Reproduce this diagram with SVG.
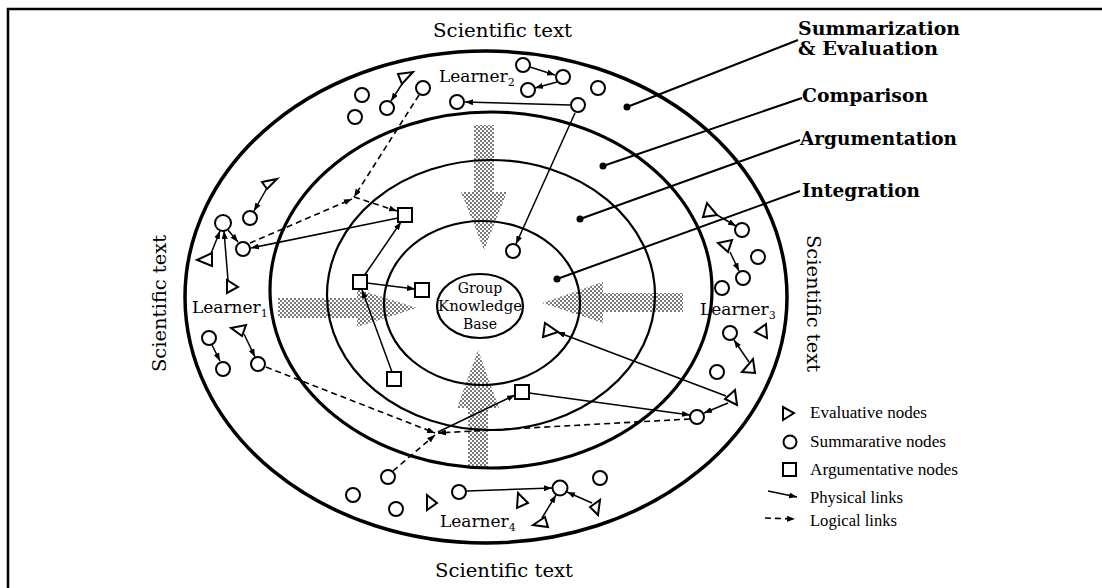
<svg xmlns="http://www.w3.org/2000/svg" width="1102" height="588" viewBox="0 0 1102 588">
<style>
.ring{fill:none;stroke:#000}
.n{fill:#fff;stroke:#000;stroke-width:2}
.l{stroke:#000;stroke-width:1.5;fill:none;marker-end:url(#arr)}
.d{stroke:#000;stroke-width:1.6;fill:none;stroke-dasharray:6 4;marker-end:url(#arr)}
.lead{stroke:#000;stroke-width:2;fill:none}
.t{font-family:"DejaVu Serif","Liberation Serif",serif;fill:#000}
.b{font-family:"DejaVu Serif","Liberation Serif",serif;font-weight:bold;font-size:18px;fill:#000}
.lg{font-family:"Liberation Serif","DejaVu Serif",serif;font-size:16px;fill:#000}
.st{fill:url(#dots)}
</style>
<defs>
<pattern id="dots" width="4" height="4" patternUnits="userSpaceOnUse">
<rect width="4" height="4" fill="#fff"/>
<rect x="0" y="0" width="2" height="2" fill="#7a7a7a"/>
<rect x="2" y="2" width="2" height="2" fill="#7a7a7a"/>
</pattern>
<marker id="arr" markerWidth="8" markerHeight="6" refX="8" refY="3" orient="auto" markerUnits="userSpaceOnUse">
<path d="M0,0 L8,3 L0,6 z" fill="#000"/>
</marker>
</defs>
<rect width="1102" height="588" fill="#fff"/>
<g id="frame">
<path d="M8,588 L8,9 L1102,9" fill="none" stroke="#000" stroke-width="2.5"/>
</g>
<g id="flows">
<polygon class="st" points="474,125 494,125 494,192 507,192 484,250 461,192 474,192"/>
<polygon class="st" points="478,350 499,408 488,408 488,468 468,468 468,408 457,408"/>
<polygon class="st" points="278,298 357,298 357,289 417,308 357,327 357,318 278,318"/>
<polygon class="st" points="542,303 603,282 603,293 683,293 683,312 603,312 603,323"/>
</g>
<g id="rings">
<ellipse class="ring" cx="486" cy="297" rx="301" ry="246" stroke-width="3.5"/>
<ellipse class="ring" cx="491" cy="290" rx="221" ry="178" stroke-width="3.2"/>
<ellipse class="ring" cx="491" cy="295" rx="164" ry="135" stroke-width="2.2"/>
<ellipse class="ring" cx="482" cy="303" rx="98" ry="82" stroke-width="2.2"/>
</g>
<g id="group-knowledge-base">
<ellipse cx="480" cy="306" rx="43" ry="32" fill="#fff" stroke="#000" stroke-width="2.2"/>
<text class="t" x="480" y="293" font-size="14" text-anchor="middle">Group</text>
<text class="t" x="480" y="311" font-size="14" text-anchor="middle" textLength="84" lengthAdjust="spacingAndGlyphs">Knowledge</text>
<text class="t" x="480" y="329" font-size="14" text-anchor="middle">Base</text>
</g>
<g id="layer-labels">
<circle cx="627" cy="107" r="3.5"/>
<line class="lead" x1="627" y1="107" x2="798" y2="40"/>
<circle cx="603" cy="166" r="3.5"/>
<line class="lead" x1="603" y1="166" x2="802" y2="98"/>
<circle cx="580" cy="219" r="3.5"/>
<line class="lead" x1="580" y1="219" x2="800" y2="140"/>
<circle cx="557" cy="279" r="3.5"/>
<line class="lead" x1="557" y1="279" x2="800" y2="191"/>
<text class="b" x="798" y="35" textLength="162" lengthAdjust="spacingAndGlyphs">Summarization</text>
<text class="b" x="798" y="55" textLength="140" lengthAdjust="spacingAndGlyphs">&amp; Evaluation</text>
<text class="b" x="802" y="102" textLength="126" lengthAdjust="spacingAndGlyphs">Comparison</text>
<text class="b" x="800" y="145" textLength="157" lengthAdjust="spacingAndGlyphs">Argumentation</text>
<text class="b" x="802" y="197" textLength="118" lengthAdjust="spacingAndGlyphs">Integration</text>
</g>
<g id="scientific-text">
<text class="t" x="433" y="37" font-size="18" textLength="139" lengthAdjust="spacingAndGlyphs">Scientific text</text>
<text class="t" x="435" y="577" font-size="18" textLength="138" lengthAdjust="spacingAndGlyphs">Scientific text</text>
<text class="t" transform="translate(166,372) rotate(-90)" font-size="18" textLength="137" lengthAdjust="spacingAndGlyphs">Scientific text</text>
<text class="t" transform="translate(807,235) rotate(90)" font-size="18" textLength="137" lengthAdjust="spacingAndGlyphs">Scientific text</text>
</g>
<g id="learner-labels">
<text class="t" x="439" y="82" font-size="17">Learner<tspan font-size="11" dy="4">2</tspan></text>
<text class="t" x="192" y="313" font-size="17">Learner<tspan font-size="11" dy="4">1</tspan></text>
<text class="t" x="700" y="315" font-size="17">Learner<tspan font-size="11" dy="4">3</tspan></text>
<text class="t" x="440" y="527" font-size="17">Learner<tspan font-size="11" dy="4">4</tspan></text>
</g>
<g id="connectors">
<line class="l" x1="402" y1="84" x2="391" y2="101"/>
<line class="l" x1="530" y1="67" x2="555" y2="75"/>
<line class="l" x1="557" y1="82" x2="535" y2="88"/>
<line class="l" x1="570" y1="105" x2="465" y2="102"/>
<line class="l" x1="575" y1="113" x2="516" y2="244"/>
<line class="d" x1="419" y1="95" x2="354" y2="197"/>
<line class="d" x1="250" y1="243" x2="352" y2="199"/>
<line class="d" x1="354" y1="197" x2="397" y2="211"/>
<line class="l" x1="398" y1="218" x2="251" y2="248"/>
<line class="l" x1="267" y1="188" x2="254" y2="211"/>
<line class="l" x1="228" y1="230" x2="238" y2="242"/>
<line class="l" x1="210" y1="256" x2="220" y2="231"/>
<line class="l" x1="228" y1="280" x2="224" y2="231"/>
<line class="l" x1="212" y1="345" x2="220" y2="361"/>
<line class="l" x1="244" y1="334" x2="255" y2="357"/>
<line class="d" x1="266" y1="367" x2="435" y2="433"/>
<line class="l" x1="364" y1="276" x2="401" y2="222"/>
<line class="l" x1="367" y1="283" x2="415" y2="289"/>
<line class="l" x1="392" y1="372" x2="362" y2="290"/>
<line class="l" x1="726" y1="396" x2="557" y2="332"/>
<line class="l" x1="728" y1="403" x2="704" y2="413"/>
<line class="l" x1="529" y1="393" x2="690" y2="415"/>
<line class="d" x1="690" y1="419" x2="438" y2="433"/>
<line class="l" x1="438" y1="432" x2="515" y2="395"/>
<line class="d" x1="393" y1="471" x2="435" y2="435"/>
<line class="l" x1="717" y1="215" x2="736" y2="226"/>
<line class="l" x1="730" y1="252" x2="739" y2="271"/>
<line class="l" x1="749" y1="362" x2="734" y2="340"/>
<line class="l" x1="467" y1="491" x2="552" y2="488"/>
<line class="l" x1="592" y1="503" x2="567" y2="492"/>
<line class="l" x1="542" y1="518" x2="556" y2="495"/>
</g>
<g id="learner2-nodes">
<circle class="n" cx="362" cy="95" r="7"/>
<circle class="n" cx="355" cy="117" r="7"/>
<circle class="n" cx="387" cy="108" r="7"/>
<polygon class="n" points="398,74 413,72 402,84"/>
<circle class="n" cx="423" cy="88" r="7"/>
<circle class="n" cx="457" cy="102" r="7"/>
<circle class="n" cx="523" cy="65" r="7"/>
<circle class="n" cx="563" cy="77" r="7"/>
<circle class="n" cx="528" cy="90" r="7"/>
<circle class="n" cx="598" cy="88" r="7"/>
<circle class="n" cx="578" cy="105" r="7"/>
<circle class="n" cx="513" cy="251" r="7"/>
</g>
<g id="learner1-nodes">
<polygon class="n" points="262,182 277,179 267,189"/>
<circle class="n" cx="250" cy="218" r="7"/>
<circle class="n" cx="223" cy="223" r="8"/>
<circle class="n" cx="243" cy="249" r="7"/>
<polygon class="n" points="197,260 212,253 212,266"/>
<polygon class="n" points="227,280 227,293 238,287"/>
<circle class="n" cx="209" cy="338" r="7"/>
<circle class="n" cx="223" cy="369" r="7"/>
<polygon class="n" points="231,328 246,325 242,336"/>
<circle class="n" cx="258" cy="364" r="7"/>
<rect class="n" x="398" y="208" width="14" height="14"/>
<rect class="n" x="353" y="275" width="14" height="14"/>
<rect class="n" x="415" y="283" width="14" height="14"/>
<rect class="n" x="387" y="372" width="14" height="14"/>
</g>
<g id="learner3-nodes">
<polygon class="n" points="707,203 703,217 717,215"/>
<circle class="n" cx="742" cy="230" r="7"/>
<circle class="n" cx="758" cy="257" r="7"/>
<polygon class="n" points="718,243 732,240 728,252"/>
<circle class="n" cx="743" cy="278" r="7"/>
<circle class="n" cx="722" cy="288" r="7"/>
<circle class="n" cx="730" cy="333" r="7"/>
<polygon class="n" points="755,332 766,324 767,338"/>
<polygon class="n" points="742,372 755,373 753,359"/>
<circle class="n" cx="717" cy="372" r="7"/>
<polygon class="n" points="725,399 735,390 737,405"/>
<circle class="n" cx="697" cy="417" r="7"/>
<polygon class="n" points="545,323 543,337 558,332"/>
</g>
<g id="learner4-nodes">
<rect class="n" x="515" y="385" width="14" height="14"/>
<circle class="n" cx="388" cy="477" r="7"/>
<circle class="n" cx="353" cy="495" r="7"/>
<circle class="n" cx="396" cy="509" r="7"/>
<polygon class="n" points="427,495 427,510 437,503"/>
<circle class="n" cx="459" cy="492" r="7"/>
<circle class="n" cx="560" cy="488" r="7.5"/>
<polygon class="n" points="518,493 528,503 517,508"/>
<circle class="n" cx="600" cy="478" r="7"/>
<polygon class="n" points="590,507 600,500 598,515"/>
<polygon class="n" points="533,525 545,517 548,527"/>
</g>
<g id="legend">
<polygon class="n" points="783,407 783,420 794,413"/>
<text class="lg" x="810" y="418" textLength="117" lengthAdjust="spacingAndGlyphs">Evaluative nodes</text>
<circle class="n" cx="790" cy="442" r="6.5"/>
<text class="lg" x="810" y="447" textLength="136" lengthAdjust="spacingAndGlyphs">Summarative nodes</text>
<rect class="n" x="783" y="463" width="13" height="13"/>
<text class="lg" x="810" y="475" textLength="148" lengthAdjust="spacingAndGlyphs">Argumentative nodes</text>
<line class="l" x1="768" y1="491" x2="797" y2="497"/>
<text class="lg" x="810" y="503" textLength="93" lengthAdjust="spacingAndGlyphs">Physical links</text>
<line class="d" x1="765" y1="518" x2="795" y2="519" stroke-dasharray="4 3"/>
<text class="lg" x="810" y="526" textLength="87" lengthAdjust="spacingAndGlyphs">Logical links</text>
</g>
</svg>
